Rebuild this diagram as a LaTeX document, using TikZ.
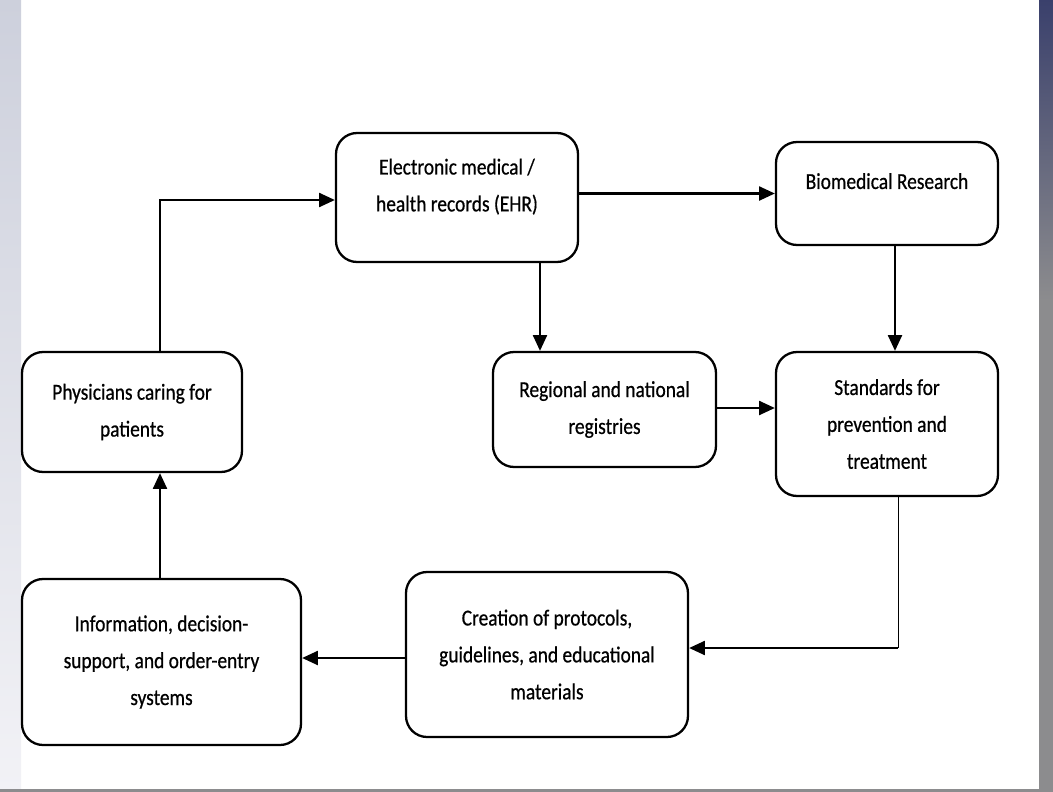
\documentclass[tikz,border=0pt]{standalone}
\usepackage{tikz,amsmath}
\usepackage{fontspec}
\setmainfont{Carlito}[FakeStretch=0.85,FakeBold=0.6]
\usetikzlibrary{shapes,arrows.meta}

\definecolor{edgeleft}{RGB}{205,208,220}
\definecolor{edgeleftlow}{RGB}{242,242,246}
\definecolor{edgetop}{RGB}{58,64,108}
\definecolor{edgegray}{RGB}{140,140,142}

\tikzset{
    flowbox/.style={rectangle, draw, line width=1.3pt, rounded corners=12pt, align=center,
        font=\fontsize{13}{21}\selectfont},
    flowarrow/.style={line width=1.2pt, -{Triangle[length=9pt,width=8pt]}}
}

\begin{document}
\begin{tikzpicture}
    % page and its borders
    \useasboundingbox (0,0) rectangle (21.06,-15.84);
    \fill [white] (0,0) rectangle (21.06,-15.84);
    \shade [top color=edgeleft, bottom color=edgeleftlow] (0,0) rectangle (0.42,-15.84);
    \shade [top color=edgetop, bottom color=edgegray] (20.78,0) rectangle (21.06,-6);
    \fill [edgegray] (20.78,-6) rectangle (21.06,-15.84);
    \fill [edgegray] (0,-15.78) rectangle (20.78,-15.84);

    \node (ehr) [flowbox, minimum width=4.84cm, minimum height=2.58cm, text depth=0.5cm] at (9.14, -3.95) {Electronic medical /\\health records (EHR)};
    \node (bio) [flowbox, minimum width=4.44cm, minimum height=2.06cm, text depth=0.5cm] at (17.74, -3.87) {Biomedical Research};
    \node (reg) [flowbox, minimum width=4.46cm, minimum height=2.30cm] at (12.09, -8.19) {Regional and national\\registries};
    \node (std) [flowbox, minimum width=4.44cm, minimum height=2.88cm] at (17.74, -8.48) {Standards for\\prevention and\\treatment};
    \node (phy) [flowbox, minimum width=4.40cm, minimum height=2.40cm] at (2.64, -8.24) {Physicians caring for\\patients};
    \node (info) [flowbox, minimum width=5.58cm, minimum height=3.32cm] at (3.23, -13.24) {Information, decision-\\support, and order-entry\\systems};
    \node (cre) [flowbox, minimum width=5.64cm, minimum height=3.30cm] at (10.94, -13.09) {Creation of protocols,\\guidelines, and educational\\materials};

    \coordinate (up) at (3.20, -4.00);
    \coordinate (turn) at (17.96, -12.96);

    \draw [flowarrow] (phy.north -| up) -- (up) -- (up -| ehr.west);
    \draw [flowarrow] (ehr.east |- bio.west) -- (bio.west);
    \draw [flowarrow] (ehr.south -| 10.80,0) -- (reg.north -| 10.80,0);
    \draw [flowarrow] (bio.south -| 17.90,0) -- (std.north -| 17.90,0);
    \draw [flowarrow] (reg.east |- 0,-8.16) -- (std.west |- 0,-8.16);
    \draw [line width=0.5pt] (std.south -| turn) -- (turn);
    \draw [flowarrow] (turn) -- (turn -| cre.east);
    \draw [flowarrow] (cre.west |- 0,-13.16) -- (info.east |- 0,-13.16);
    \draw [flowarrow] (info.north -| up) -- (phy.south -| up);
\end{tikzpicture}
\end{document}
